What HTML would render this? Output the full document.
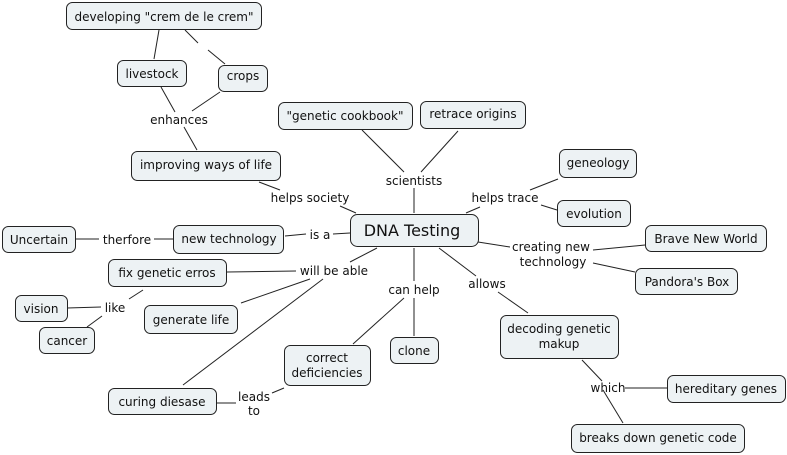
<!DOCTYPE html>
<html><head><meta charset="utf-8"><style>
html,body{margin:0;padding:0;background:#fff;}
svg{display:block;}
text{font-family:"DejaVu Sans","Liberation Sans",sans-serif;font-size:12px;fill:#111;}
rect{fill:#edf2f4;stroke:#222;stroke-width:1;}
line{stroke:#222;stroke-width:1;}
</style></head><body>
<svg width="787" height="455" viewBox="0 0 787 455" xmlns="http://www.w3.org/2000/svg">
<!-- connectors -->
<line x1="159" y1="30" x2="154" y2="59"/>
<line x1="185" y1="30" x2="198" y2="43"/>
<line x1="208" y1="50" x2="225" y2="64"/>
<line x1="161" y1="87" x2="175" y2="112"/>
<line x1="220" y1="92" x2="192" y2="111"/>
<line x1="184" y1="127" x2="197" y2="150"/>
<line x1="259" y1="182" x2="280" y2="190"/>
<line x1="340" y1="206" x2="356" y2="213"/>
<line x1="362" y1="130" x2="404" y2="172"/>
<line x1="458" y1="131" x2="421" y2="172"/>
<line x1="414" y1="188" x2="414" y2="213"/>
<line x1="466" y1="213" x2="480" y2="207"/>
<line x1="530" y1="190" x2="558" y2="179"/>
<line x1="541" y1="205" x2="557" y2="210"/>
<line x1="478" y1="242" x2="510" y2="247"/>
<line x1="593" y1="250" x2="645" y2="245"/>
<line x1="593" y1="263" x2="635" y2="272"/>
<line x1="285" y1="236" x2="306" y2="234"/>
<line x1="333" y1="234" x2="350" y2="233"/>
<line x1="76" y1="239" x2="99" y2="239"/>
<line x1="154" y1="239" x2="173" y2="239"/>
<line x1="377" y1="248" x2="350" y2="262"/>
<line x1="227" y1="272" x2="296" y2="271"/>
<line x1="310" y1="279" x2="241" y2="303"/>
<line x1="323" y1="279" x2="183" y2="385"/>
<line x1="414" y1="248" x2="414" y2="281"/>
<line x1="404" y1="298" x2="353" y2="344"/>
<line x1="414" y1="298" x2="414" y2="336"/>
<line x1="439" y1="248" x2="476" y2="276"/>
<line x1="498" y1="292" x2="528" y2="313"/>
<line x1="143" y1="290" x2="129" y2="299"/>
<line x1="67" y1="308" x2="101" y2="307"/>
<line x1="102" y1="316" x2="87" y2="327"/>
<line x1="216" y1="403" x2="236" y2="403"/>
<line x1="272" y1="393" x2="284" y2="388"/>
<line x1="582" y1="360" x2="602" y2="381"/>
<line x1="603" y1="390" x2="623" y2="423"/>
<line x1="625" y1="388" x2="667" y2="388"/>
<!-- nodes -->
<rect x="66.5" y="2.5" width="195" height="27" rx="6"/>
<text x="164" y="21" text-anchor="middle">developing "crem de le crem"</text>
<rect x="117.5" y="60.5" width="69" height="26" rx="6"/>
<text x="152" y="78" text-anchor="middle">livestock</text>
<rect x="218.5" y="65.5" width="49" height="26" rx="6"/>
<text x="243" y="80" text-anchor="middle">crops</text>
<rect x="278.5" y="102.5" width="134" height="27" rx="6"/>
<text x="345" y="120" text-anchor="middle">"genetic cookbook"</text>
<rect x="420.5" y="101.5" width="105" height="27" rx="6"/>
<text x="473" y="118" text-anchor="middle">retrace origins</text>
<rect x="131.5" y="151.5" width="149" height="29" rx="6"/>
<text x="206" y="169" text-anchor="middle">improving ways of life</text>
<rect x="559.5" y="149.5" width="77" height="28" rx="6"/>
<text x="598" y="167" text-anchor="middle">geneology</text>
<rect x="557.5" y="200.5" width="73" height="26" rx="6"/>
<text x="594" y="218" text-anchor="middle">evolution</text>
<rect x="350.5" y="214.5" width="128" height="32" rx="7"/>
<text x="412" y="236" text-anchor="middle" style="font-size:16px">DNA Testing</text>
<rect x="2.5" y="226.5" width="73" height="26" rx="6"/>
<text x="39" y="244" text-anchor="middle">Uncertain</text>
<rect x="173.5" y="225.5" width="110" height="28" rx="6"/>
<text x="229" y="243" text-anchor="middle">new technology</text>
<rect x="645.5" y="225.5" width="121" height="26" rx="6"/>
<text x="706" y="243" text-anchor="middle">Brave New World</text>
<rect x="635.5" y="268.5" width="102" height="26" rx="6"/>
<text x="687" y="286" text-anchor="middle">Pandora's Box</text>
<rect x="108.5" y="259.5" width="118" height="27" rx="6"/>
<text x="167" y="277" text-anchor="middle">fix genetic erros</text>
<rect x="15.5" y="295.5" width="52" height="26" rx="6"/>
<text x="41" y="313" text-anchor="middle">vision</text>
<rect x="144.5" y="305.5" width="93" height="28" rx="6"/>
<text x="191" y="324" text-anchor="middle">generate life</text>
<rect x="39.5" y="327.5" width="55" height="26" rx="6"/>
<text x="67" y="345" text-anchor="middle">cancer</text>
<rect x="500.5" y="315.5" width="118" height="43" rx="6"/>
<text x="559" y="333" text-anchor="middle">decoding genetic</text>
<text x="559" y="348" text-anchor="middle">makup</text>
<rect x="284.5" y="345.5" width="86" height="40" rx="6"/>
<text x="327" y="362" text-anchor="middle">correct</text>
<text x="327" y="377" text-anchor="middle">deficiencies</text>
<rect x="390.5" y="337.5" width="48" height="26" rx="6"/>
<text x="414" y="355" text-anchor="middle">clone</text>
<rect x="108.5" y="388.5" width="108" height="26" rx="6"/>
<text x="162" y="406" text-anchor="middle">curing diesase</text>
<rect x="667.5" y="375.5" width="118" height="27" rx="6"/>
<text x="726" y="393" text-anchor="middle">hereditary genes</text>
<rect x="571.5" y="424.5" width="173" height="28" rx="6"/>
<text x="658" y="442" text-anchor="middle">breaks down genetic code</text>
<!-- link labels -->
<text x="179" y="124" text-anchor="middle">enhances</text>
<text x="310" y="202" text-anchor="middle">helps society</text>
<text x="414" y="185" text-anchor="middle">scientists</text>
<text x="505" y="202" text-anchor="middle">helps trace</text>
<text x="320" y="239" text-anchor="middle">is a</text>
<text x="127" y="244" text-anchor="middle">therfore</text>
<text x="334" y="275" text-anchor="middle">will be able</text>
<text x="115" y="312" text-anchor="middle">like</text>
<text x="414" y="294" text-anchor="middle">can help</text>
<text x="487" y="288" text-anchor="middle">allows</text>
<text x="551" y="251" text-anchor="middle">creating new</text>
<text x="553" y="266" text-anchor="middle">technology</text>
<text x="608" y="392" text-anchor="middle">which</text>
<text x="254" y="401" text-anchor="middle">leads</text>
<text x="254" y="415" text-anchor="middle">to</text>
</svg>
</body></html>
